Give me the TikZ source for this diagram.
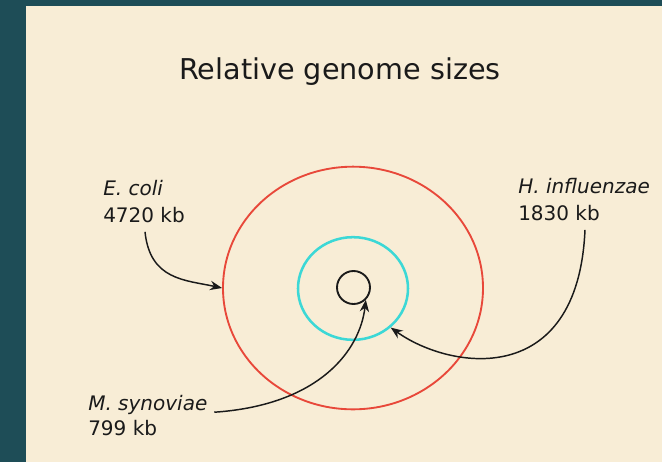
\documentclass[tikz,border=0pt]{standalone}
\usepackage{fontspec}
\setmainfont{DejaVu Sans}
\usetikzlibrary{arrows.meta,shapes.geometric}
\definecolor{slate}{HTML}{1E4D57}
\definecolor{parchment}{HTML}{F8EDD6}
\definecolor{ringred}{HTML}{E8483A}
\definecolor{ringcyan}{HTML}{3CD8D6}
\definecolor{ink}{HTML}{1A1A1A}
\tikzset{
  genome/.style={ellipse,inner sep=0pt},
  species/.style={anchor=base west,inner sep=0pt,text=ink,font=\fontsize{15}{18}\selectfont},
  pointer/.style={-{Stealth[length=9pt,width=7pt]},line width=1.1pt,draw=ink,shorten <=7pt}
}
\begin{document}
\begin{tikzpicture}[x=0.75pt,y=-0.75pt]
\fill[slate] (0,0) rectangle (662,462);
\fill[parchment] (26,6) rectangle (662,462);
\node[anchor=base,text=ink,font=\fontsize{21.5}{26}\selectfont] (title) at (340,79) {Relative genome sizes};
% rings, outer to inner
\node[genome,draw=ringred,line width=1.4pt,minimum width=195pt,minimum height=182pt] (ecolring) at (353,288) {};
\node[genome,draw=ringcyan,line width=1.9pt,minimum width=82.5pt,minimum height=77pt] (hinfring) at (353,288.5) {};
\node[circle,inner sep=0pt,draw=ink,line width=1.4pt,minimum size=24.75pt] (msynring) at (353.5,287.5) {};
% labels
\node[species] (ecolname) at (103,195) {\textit{E. coli}};   \node[species] (ecolsize) at (103,222) {4720 kb};
\node[species] (hinfname) at (518,193) {\textit{H. influenzae}}; \node[species] (hinfsize) at (518,220) {1830 kb};
\node[species] (msynname) at (88,410) {\textit{M. synoviae}};  \node[species] (msynsize) at (88,435) {799 kb};
% pointers
\draw[pointer] (ecolsize.south) .. controls (150,280) and (185,280) .. (ecolring.west);
\draw[pointer] ([xshift=-11pt]hinfsize.south east) .. controls (578,390) and (450,370) .. (hinfring.-46);
\draw[pointer,shorten <=5pt] ([yshift=-2pt]msynname.base east) .. controls (320,405) and (360,350) .. (msynring.-45);
\end{tikzpicture}
\end{document}
